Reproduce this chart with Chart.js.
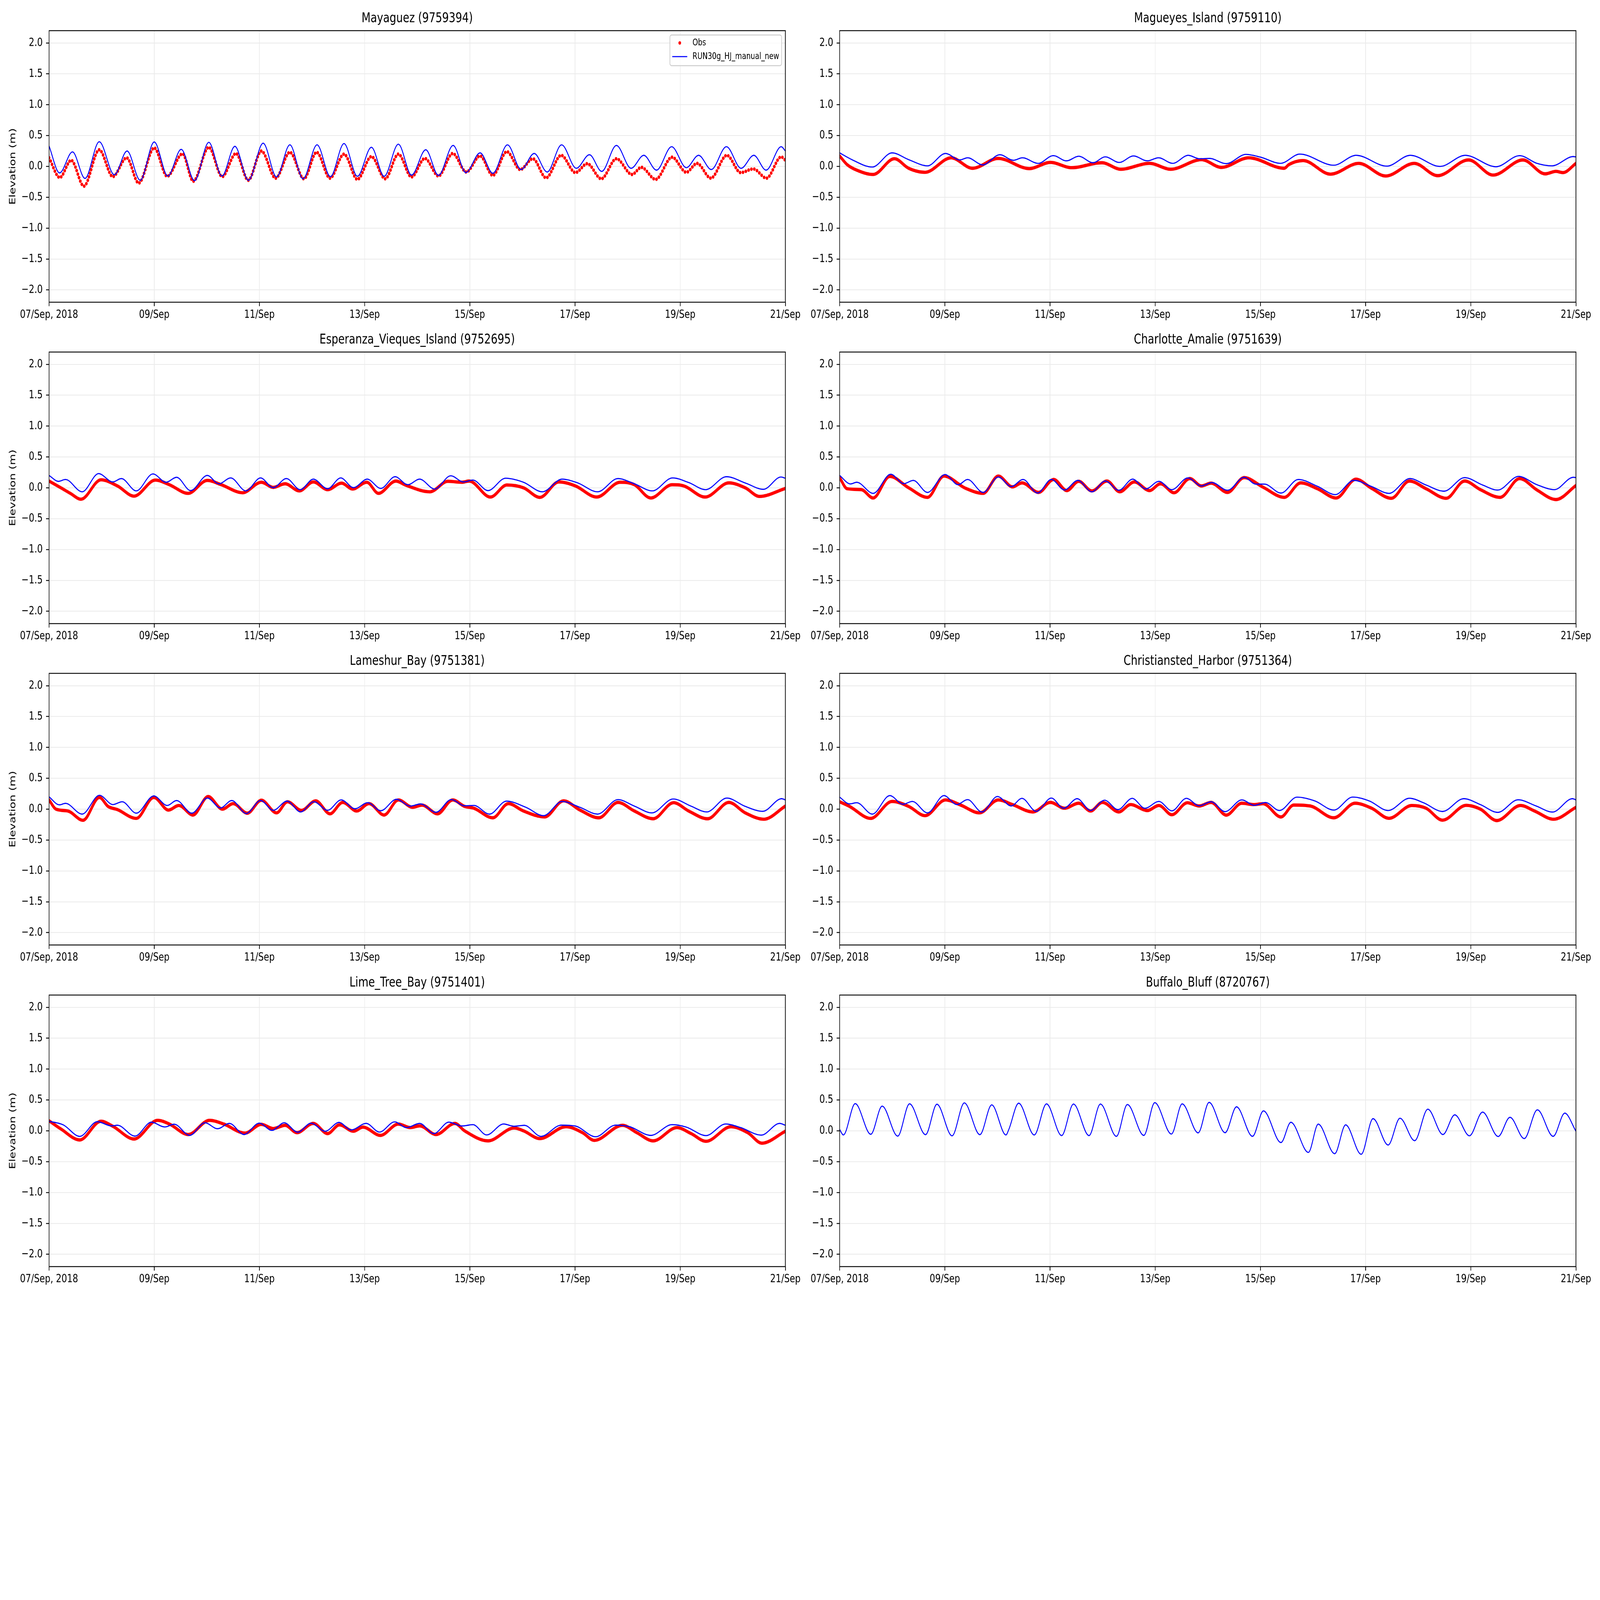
<!DOCTYPE html>
<html>
<head>
<meta charset="utf-8">
<script src="https://cdn.jsdelivr.net/npm/chart.js@4.4.1/dist/chart.umd.min.js"></script>
<style>
  html, body { margin: 0; padding: 0; background: #ffffff; overflow: hidden; }
  #fig { position: absolute; left: 0; top: 0; width: 7650px; height: 5850px; transform-origin: 0 0; background: #ffffff; }
  #fig canvas { position: absolute; }
</style>
</head>
<body>
<div id="fig"></div>
<script>
// hours since 07/Sep 2018 00:00, elevation in m  ([hour, value] pairs)
const hourTicks = [0, 48, 96, 144, 192, 240, 288, 336];
const xTickLabels = ["07/Sep, 2018", "09/Sep", "11/Sep", "13/Sep", "15/Sep", "17/Sep", "19/Sep", "21/Sep"];
const yTickValues = [-2, -1.5, -1, -0.5, 0, 0.5, 1, 1.5, 2];
const seriesLabels = ["Obs", "RUN30g_HJ_manual_new"];
const stationTitles = [
  "Mayaguez (9759394)", "Magueyes_Island (9759110)",
  "Esperanza_Vieques_Island (9752695)", "Charlotte_Amalie (9751639)",
  "Lameshur_Bay (9751381)", "Christiansted_Harbor (9751364)",
  "Lime_Tree_Bay (9751401)", "Buffalo_Bluff (8720767)"
];

const mayaguezObs = [[0,0.14],[4.9,-0.18],[10.1,0.10],[15.9,-0.32],[22.9,0.27],[29.1,-0.165],[35.4,0.14],[40.9,-0.27],[48.0,0.30],[53.9,-0.16],[60.9,0.205],[65.8,-0.24],[72.9,0.31],[79.0,-0.165],[85.3,0.21],[90.9,-0.224],[96.9,0.25],[103.4,-0.19],[109.9,0.23],[116.3,-0.20],[122.1,0.23],[128.2,-0.19],[134.6,0.20],[140.7,-0.21],[147.1,0.16],[153.4,-0.20],[159.4,0.20],[165.4,-0.17],[171.5,0.13],[177.7,-0.155],[184.2,0.21],[190.4,-0.09],[196.7,0.17],[202.5,-0.145],[208.9,0.24],[215.0,-0.05],[220.8,0.125],[226.8,-0.185],[233.7,0.18],[240.2,-0.10],[245.6,0.045],[252.0,-0.20],[258.9,0.125],[266.0,-0.13],[270.3,-0.015],[276.8,-0.21],[284.3,0.15],[290.8,-0.095],[295.7,0.05],[302.0,-0.19],[309.3,0.18],[315.6,-0.10],[321.4,-0.04],[327.4,-0.19],[334.1,0.155],[336,0.10]];
const mayaguezModel = [[0,0.33],[4.8,-0.105],[10.7,0.236],[16.4,-0.194],[22.9,0.40],[29.8,-0.135],[35.6,0.25],[41.6,-0.224],[48.0,0.396],[54.2,-0.155],[60.3,0.277],[66.4,-0.23],[72.9,0.39],[78.9,-0.155],[84.8,0.325],[91.0,-0.224],[97.7,0.376],[103.8,-0.17],[109.9,0.35],[115.9,-0.20],[122.3,0.35],[128.4,-0.165],[134.6,0.37],[140.7,-0.16],[147.1,0.31],[152.9,-0.16],[159.4,0.36],[165.4,-0.14],[171.9,0.27],[177.7,-0.145],[184.4,0.34],[190.2,-0.10],[196.7,0.22],[202.5,-0.11],[209.2,0.35],[215.4,-0.05],[221.4,0.21],[227.3,-0.09],[233.9,0.35],[240.6,-0.03],[246.6,0.19],[252.2,-0.08],[258.9,0.34],[265.6,-0.03],[271.4,0.18],[277.2,-0.06],[284.1,0.32],[290.8,-0.02],[296.4,0.18],[302.2,-0.05],[309.1,0.32],[315.8,-0.03],[321.6,0.18],[327.2,-0.06],[334.1,0.32],[336,0.25]];

const magueyesObs = [[0,0.17],[3.4,0.03],[7.8,-0.06],[15.3,-0.13],[25.0,0.125],[31.5,-0.03],[39.0,-0.095],[50.9,0.14],[60.6,-0.03],[72.4,0.13],[86.5,-0.035],[96.2,0.065],[105.9,-0.02],[119.7,0.06],[128.3,-0.045],[141.4,0.05],[151.1,-0.045],[165.1,0.11],[174.2,-0.015],[186.7,0.14],[202.9,-0.03],[205.0,0.03],[211.5,0.095],[224.0,-0.125],[236.9,0.05],[249.2,-0.155],[262.2,0.05],[272.9,-0.15],[287.0,0.105],[298.2,-0.14],[311.8,0.105],[321.9,-0.12],[326.9,-0.08],[330.1,-0.10],[336,0.05]];
const magueyesModel = [[0,0.22],[5.6,0.11],[14.9,-0.01],[23.9,0.22],[31.5,0.11],[40.1,0.01],[48.3,0.21],[54.8,0.105],[58.4,0.14],[65.3,0.025],[73.1,0.19],[79.3,0.10],[83.4,0.14],[90.6,0.05],[97.5,0.175],[103.5,0.09],[109.1,0.165],[115.6,0.06],[121.2,0.155],[127.6,0.065],[134.1,0.17],[140.4,0.09],[145.5,0.14],[152.0,0.05],[159.1,0.18],[164.1,0.125],[168.8,0.13],[176.4,0.045],[185.4,0.195],[192.1,0.15],[201.2,0.05],[210.0,0.20],[225.5,0.02],[235.7,0.18],[249.7,0.005],[260.4,0.18],[274.0,0.0],[285.5,0.18],[299.5,-0.005],[310.3,0.175],[318.2,0.05],[325.1,0.01],[334.8,0.16],[336,0.155]];

const esperanzaObs = [[0,0.11],[5.4,0.0],[9.7,-0.09],[14.6,-0.185],[23.7,0.13],[31.2,0.03],[38.8,-0.135],[48.5,0.125],[54.9,0.05],[63.5,-0.09],[72.2,0.12],[78.6,0.05],[88.3,-0.08],[96.9,0.09],[102.3,0.007],[107.7,0.065],[114.2,-0.05],[120.6,0.095],[127.1,-0.03],[133.5,0.075],[138.5,-0.02],[145.0,0.09],[150.3,-0.09],[158.3,0.11],[162.6,0.045],[173.8,-0.065],[182.0,0.105],[188.5,0.09],[191.7,0.11],[201.4,-0.15],[208.9,0.045],[216.5,0.0],[224.0,-0.155],[232.6,0.095],[240.2,0.03],[249.9,-0.15],[260.6,0.09],[267.1,0.05],[274.6,-0.165],[284.3,0.05],[289.7,0.03],[299.4,-0.15],[310.2,0.08],[317.7,0.0],[324.2,-0.14],[336,-0.01]];
const esperanzaModel = [[0,0.20],[4.3,0.105],[7.5,0.135],[15.1,-0.065],[22.6,0.23],[29.1,0.095],[33.0,0.15],[39.8,-0.05],[47.4,0.225],[53.4,0.09],[58.2,0.17],[64.6,-0.045],[72.2,0.20],[77.5,0.065],[82.9,0.16],[89.8,-0.05],[96.5,0.16],[102.3,0.003],[108.3,0.15],[114.6,-0.03],[120.6,0.14],[127.1,-0.015],[133.1,0.16],[138.9,0.003],[145.2,0.14],[151.4,-0.01],[157.9,0.18],[163.7,0.05],[169.1,0.14],[176.0,-0.02],[183.3,0.195],[189.1,0.095],[193.4,0.125],[200.3,-0.045],[208.3,0.155],[216.5,0.09],[225.1,-0.065],[234.1,0.14],[241.2,0.08],[250.3,-0.065],[259.6,0.15],[267.1,0.065],[275.3,-0.05],[284.5,0.16],[291.9,0.085],[299.6,-0.03],[309.1,0.18],[317.9,0.075],[326.0,-0.025],[334.0,0.175],[336,0.155]];

const charlotteObs = [[0,0.165],[3.4,-0.015],[9.9,-0.03],[15.3,-0.165],[22.9,0.185],[31.5,0.0],[40.1,-0.155],[47.6,0.19],[57.3,-0.005],[65.5,-0.09],[72.4,0.19],[78.9,0.015],[83.2,0.08],[90.8,-0.075],[97.7,0.135],[103.7,-0.045],[109.1,0.105],[115.1,-0.05],[122.0,0.11],[127.8,-0.065],[134.5,0.095],[141.4,-0.045],[146.4,0.065],[152.6,-0.08],[159.8,0.15],[165.1,0.03],[169.5,0.075],[177.0,-0.075],[184.6,0.165],[193.2,0.01],[202.9,-0.155],[210.4,0.08],[218.0,-0.015],[226.6,-0.165],[235.6,0.14],[242.8,-0.01],[251.8,-0.17],[260.0,0.11],[267.6,-0.015],[276.8,-0.17],[285.2,0.11],[292.4,-0.03],[301.4,-0.155],[310.3,0.15],[318.2,-0.035],[326.9,-0.19],[336,0.037]];
const charlotteModel = [[0,0.20],[5.0,0.062],[7.8,0.09],[15.3,-0.09],[23.3,0.22],[29.3,0.067],[33.6,0.12],[40.1,-0.075],[48.1,0.215],[54.1,0.05],[58.4,0.135],[65.5,-0.075],[72.4,0.175],[78.3,0.02],[83.7,0.135],[90.3,-0.085],[96.6,0.135],[102.6,-0.035],[108.7,0.12],[115.1,-0.065],[121.2,0.11],[127.4,-0.04],[133.7,0.14],[139.7,-0.018],[145.7,0.105],[151.6,-0.03],[158.9,0.16],[165.1,0.03],[169.9,0.085],[177.0,-0.04],[184.6,0.17],[189.9,0.06],[193.8,0.06],[201.4,-0.085],[209.3,0.135],[218.0,0.025],[226.2,-0.11],[234.6,0.12],[242.8,0.02],[250.7,-0.09],[260.2,0.15],[267.6,0.045],[275.8,-0.055],[285.2,0.165],[293.4,0.045],[300.3,-0.037],[309.8,0.185],[318.2,0.05],[326.2,-0.03],[334.8,0.17],[336,0.165]];

const lameshurObs = [[0,0.15],[3.2,0.0],[8.6,-0.03],[15.5,-0.18],[23.0,0.19],[26.9,0.045],[31.2,-0.007],[39.8,-0.15],[47.8,0.19],[54.5,-0.015],[59.2,0.06],[65.7,-0.095],[72.6,0.205],[79.1,0.0],[84.0,0.09],[90.5,-0.065],[96.9,0.145],[103.8,-0.06],[108.8,0.12],[115.2,-0.02],[121.7,0.135],[128.2,-0.075],[134.0,0.11],[140.4,-0.03],[146.0,0.09],[152.9,-0.095],[159.4,0.15],[165.9,0.03],[170.2,0.065],[177.3,-0.075],[184.2,0.15],[189.6,0.045],[193.9,0.015],[202.5,-0.14],[209.6,0.09],[216.5,-0.03],[226.2,-0.125],[234.8,0.135],[242.3,-0.015],[250.9,-0.14],[259.6,0.11],[267.1,-0.03],[275.7,-0.155],[285.0,0.105],[291.9,-0.03],[300.5,-0.155],[310.2,0.11],[317.7,-0.06],[326.2,-0.163],[336,0.05]];
const lameshurModel = [[0,0.20],[4.7,0.07],[7.5,0.095],[15.1,-0.08],[23.0,0.225],[29.1,0.075],[33.4,0.12],[39.8,-0.065],[47.8,0.215],[53.9,0.06],[58.2,0.14],[65.1,-0.065],[72.2,0.18],[78.2,0.02],[83.4,0.14],[90.0,-0.07],[96.5,0.14],[102.3,-0.018],[108.6,0.13],[114.8,-0.045],[120.8,0.12],[127.1,-0.018],[133.3,0.15],[139.6,0.007],[145.4,0.105],[151.4,-0.025],[158.5,0.16],[164.8,0.05],[169.5,0.085],[176.6,-0.05],[183.5,0.155],[189.6,0.055],[193.9,0.06],[201.0,-0.08],[208.7,0.13],[217.6,0.03],[225.7,-0.105],[234.1,0.125],[242.3,0.03],[250.3,-0.08],[259.6,0.155],[267.1,0.05],[275.1,-0.06],[284.8,0.165],[292.9,0.05],[300.1,-0.045],[309.3,0.18],[317.7,0.045],[325.7,-0.035],[334.3,0.17],[336,0.15]];

const christianstedObs = [[0,0.12],[4.5,0.045],[14.2,-0.15],[23.9,0.125],[31.5,0.045],[39.0,-0.105],[48.3,0.15],[55.2,0.067],[63.8,-0.06],[72.4,0.15],[78.9,0.074],[88.2,-0.045],[96.2,0.11],[102.6,0.015],[109.1,0.096],[114.5,-0.03],[119.9,0.11],[127.4,-0.045],[132.8,0.074],[140.4,-0.022],[145.7,0.06],[151.6,-0.09],[158.7,0.104],[164.1,0.052],[169.5,0.11],[176.4,-0.096],[183.5,0.096],[188.9,0.074],[193.2,0.089],[201.4,-0.126],[207.2,0.067],[214.7,0.052],[225.5,-0.14],[235.2,0.096],[242.8,0.015],[250.7,-0.148],[261.1,0.06],[267.6,0.015],[275.1,-0.178],[285.9,0.062],[292.4,0.0],[299.9,-0.185],[310.7,0.06],[317.1,-0.03],[325.8,-0.163],[336,0.03]];
const christianstedModel = [[0,0.195],[4.5,0.085],[7.8,0.105],[14.9,-0.08],[22.9,0.22],[28.9,0.08],[33.2,0.125],[40.1,-0.06],[47.6,0.22],[53.5,0.075],[58.4,0.155],[64.9,-0.045],[72.0,0.205],[78.3,0.052],[83.2,0.175],[89.7,-0.035],[96.6,0.18],[102.2,0.015],[108.4,0.17],[114.5,-0.02],[120.9,0.145],[127.0,-0.007],[133.5,0.175],[139.3,0.015],[145.7,0.125],[151.6,-0.027],[158.2,0.175],[164.1,0.055],[169.5,0.12],[175.9,-0.04],[183.5,0.15],[189.3,0.063],[194.3,0.108],[200.7,-0.022],[208.7,0.195],[216.9,0.133],[225.5,-0.015],[234.1,0.196],[241.7,0.133],[250.3,-0.022],[260.0,0.177],[266.5,0.103],[275.1,-0.037],[284.8,0.17],[292.4,0.074],[300.3,-0.052],[309.6,0.152],[317.8,0.052],[325.3,-0.047],[334.4,0.17],[336,0.15]];

const limeTreeObs = [[0,0.163],[5.4,0.03],[14.0,-0.148],[23.7,0.155],[29.1,0.074],[38.8,-0.133],[49.5,0.17],[54.9,0.11],[63.5,-0.06],[73.2,0.17],[79.7,0.11],[89.4,-0.037],[96.9,0.104],[102.3,0.037],[107.7,0.089],[113.1,-0.03],[120.6,0.12],[127.1,-0.045],[132.5,0.096],[138.9,-0.007],[143.2,0.06],[151.2,-0.074],[159.4,0.11],[164.8,0.052],[169.1,0.08],[176.6,-0.06],[185.2,0.12],[189.6,0.0],[200.3,-0.163],[212.2,0.045],[216.5,0.0],[224.0,-0.126],[235.9,0.067],[243.4,-0.03],[248.8,-0.155],[261.7,0.089],[268.2,-0.03],[275.7,-0.163],[286.5,0.052],[293.0,-0.045],[299.8,-0.17],[311.2,0.067],[318.8,-0.03],[325.3,-0.2],[336,-0.007]];
const limeTreeModel = [[0,0.155],[6.5,0.096],[14.0,-0.09],[22.0,0.148],[28.4,0.08],[31.2,0.09],[39.2,-0.086],[46.7,0.14],[52.8,0.062],[57.1,0.107],[64.2,-0.074],[71.1,0.13],[76.9,0.034],[82.3,0.12],[89.0,-0.06],[95.9,0.124],[101.7,0.007],[107.3,0.13],[113.5,-0.022],[119.5,0.123],[126.0,-0.007],[132.3,0.136],[137.9,0.015],[144.7,0.12],[150.8,-0.02],[157.7,0.145],[163.1,0.052],[169.1,0.12],[175.6,-0.045],[182.4,0.14],[188.5,0.078],[193.4,0.1],[199.7,-0.067],[207.4,0.11],[212.2,0.074],[216.9,0.089],[224.5,-0.09],[233.7,0.092],[240.2,0.077],[249.4,-0.096],[258.5,0.092],[264.9,0.067],[274.6,-0.074],[284.3,0.1],[290.8,0.06],[299.8,-0.077],[308.7,0.11],[315.6,0.052],[325.0,-0.07],[333.4,0.12],[336,0.09]];

const buffaloModel = [[0,0.022],[1.7,-0.067],[7.1,0.44],[14.2,-0.056],[19.4,0.40],[26.5,-0.086],[31.9,0.437],[39.2,-0.062],[44.4,0.43],[51.3,-0.081],[56.9,0.452],[64.0,-0.062],[69.4,0.42],[75.9,-0.067],[77.2,0.022],[81.7,0.447],[88.8,-0.067],[94.4,0.436],[101.3,-0.077],[106.7,0.433],[113.8,-0.077],[119.0,0.433],[126.3,-0.089],[131.3,0.426],[138.8,-0.074],[143.8,0.456],[151.4,-0.052],[156.3,0.436],[163.6,-0.033],[168.6,0.46],[175.9,-0.03],[181.1,0.388],[188.4,-0.089],[193.4,0.323],[201.4,-0.19],[205.9,0.138],[213.9,-0.35],[218.4,0.108],[225.9,-0.37],[230.9,0.096],[238.0,-0.38],[243.4,0.197],[250.3,-0.23],[255.7,0.204],[262.4,-0.16],[268.4,0.35],[275.3,-0.06],[280.7,0.259],[287.4,-0.081],[293.4,0.303],[300.5,-0.092],[305.9,0.219],[312.4,-0.126],[318.4,0.34],[325.6,-0.089],[330.9,0.286],[336,-0.007]];

const obsSeries = [mayaguezObs, magueyesObs, esperanzaObs, charlotteObs, lameshurObs, christianstedObs, limeTreeObs, null];
const modelSeries = [mayaguezModel, magueyesModel, esperanzaModel, charlotteModel, lameshurModel, christianstedModel, limeTreeModel, buffaloModel];

// figure layout (px, in a 7650 x 5850 figure)
const FIG_W = 7650, FIG_H = 5850;
const ROW_TOP = [112, 1287, 2462, 3638];
const COL_LEFT = [0, 3780];
const TITLE_H = 120, AXIS_W = 234.5, AXES_H = 993, XAXIS_H = 100;
const CANVAS_W = 3870, PAD_R = 115;
const FONT = "DejaVu Sans";
const OBS_COLOR = "#ff0000", MODEL_COLOR = "#0000ff";

// map the 7650 x 5850 figure onto the window if the window is a different size
const fig = document.getElementById("fig");
const sx = window.innerWidth / FIG_W, sy = window.innerHeight / FIG_H;
if (Math.abs(sx - 1) > 0.001 || Math.abs(sy - 1) > 0.001) {
  fig.style.transform = "scale(" + sx + "," + sy + ")";
}

Chart.defaults.font.family = FONT;
Chart.defaults.color = "#000000";

function toXY(pairs) {
  return pairs.map(function (p) { return { x: p[0], y: p[1] }; });
}

// black box round the axes, plus the legend on the first panel
const framePlugin = {
  id: "frame",
  afterDraw: function (chart, args, opts) {
    const ctx = chart.ctx;
    const a = chart.chartArea;
    ctx.save();
    ctx.strokeStyle = "#000000";
    ctx.lineWidth = 3.3;
    ctx.strokeRect(a.left, a.top, a.right - a.left, a.bottom - a.top);
    if (opts.legend) {
      const x0 = a.right - 552, y0 = a.top + 16;
      ctx.beginPath();
      ctx.roundRect(x0, y0, 534, 112, 8);
      ctx.fillStyle = "rgba(255,255,255,0.8)";
      ctx.fill();
      ctx.lineWidth = 3.3;
      ctx.strokeStyle = "#cccccc";
      ctx.stroke();
      ctx.fillStyle = OBS_COLOR;
      ctx.beginPath();
      ctx.arc(x0 + 47, y0 + 29, 6.5, 0, 2 * Math.PI);
      ctx.fill();
      ctx.strokeStyle = MODEL_COLOR;
      ctx.lineWidth = 4.17;
      ctx.beginPath();
      ctx.moveTo(x0 + 11, y0 + 79);
      ctx.lineTo(x0 + 83, y0 + 79);
      ctx.stroke();
      ctx.fillStyle = "#000000";
      ctx.font = "33.3px '" + FONT + "'";
      ctx.textBaseline = "middle";
      ctx.textAlign = "left";
      ctx.fillText(seriesLabels[0], x0 + 108, y0 + 29);
      ctx.fillText(seriesLabels[1], x0 + 108, y0 + 79);
    }
    ctx.restore();
  }
};

stationTitles.forEach(function (title, i) {
  const row = Math.floor(i / 2), col = i % 2;
  const canvas = document.createElement("canvas");
  canvas.width = CANVAS_W;
  canvas.height = TITLE_H + AXES_H + XAXIS_H;
  canvas.style.left = COL_LEFT[col] + "px";
  canvas.style.top = (ROW_TOP[row] - TITLE_H) + "px";
  fig.appendChild(canvas);

  const datasets = [{
    label: seriesLabels[1],
    data: toXY(modelSeries[i]),
    borderColor: MODEL_COLOR,
    borderWidth: 4.17,
    pointRadius: 0,
    cubicInterpolationMode: "monotone",
    clip: 0,
    order: 0
  }];
  if (obsSeries[i]) {
    const obs = {
      label: seriesLabels[0],
      data: toXY(obsSeries[i]),
      borderColor: OBS_COLOR,
      borderWidth: 12,
      borderCapStyle: "round",
      borderJoinStyle: "round",
      pointRadius: 0,
      cubicInterpolationMode: "monotone",
      clip: 0,
      order: 1
    };
    if (i === 0) {
      // hourly samples at Mayaguez show as separate dots
      obs.borderWidth = 13;
      obs.borderDash = [0, 14];
    }
    datasets.push(obs);
  }

  new Chart(canvas.getContext("2d"), {
    type: "line",
    data: { datasets: datasets },
    plugins: [framePlugin],
    options: {
      responsive: false,
      devicePixelRatio: 1,
      animation: false,
      events: [],
      layout: { padding: { left: 0, right: PAD_R, top: 0, bottom: 0 } },
      plugins: {
        legend: { display: false },
        tooltip: { enabled: false },
        frame: { legend: i === 0 },
        title: {
          display: true,
          text: title,
          fullSize: false,
          color: "#000000",
          font: { family: FONT, size: 50, weight: "normal", lineHeight: 1.2 },
          padding: { top: 46, bottom: 14 }
        }
      },
      scales: {
        x: {
          type: "linear",
          min: 0,
          max: 336,
          afterBuildTicks: function (axis) {
            axis.ticks = hourTicks.map(function (v) { return { value: v }; });
          },
          afterFit: function (axis) { axis.height = XAXIS_H; },
          ticks: {
            autoSkip: false,
            maxRotation: 0,
            padding: 7,
            color: "#000000",
            font: { size: 41.67 },
            callback: function (v, idx) { return xTickLabels[idx]; }
          },
          grid: {
            color: "#ebebeb",
            lineWidth: 3,
            tickColor: "#000000",
            tickWidth: 3.3,
            tickLength: 14.6
          },
          border: { display: false }
        },
        y: {
          type: "linear",
          min: -2.2,
          max: 2.2,
          afterBuildTicks: function (axis) {
            axis.ticks = yTickValues.map(function (v) { return { value: v }; });
          },
          afterFit: function (axis) { axis.width = AXIS_W; },
          ticks: {
            padding: 16,
            color: "#000000",
            font: { size: 41.67 },
            callback: function (v) { return v.toFixed(1).replace("-", "\u2212"); }
          },
          grid: {
            color: "#ebebeb",
            lineWidth: 3,
            tickColor: "#000000",
            tickWidth: 3.3,
            tickLength: 14.6
          },
          border: { display: false },
          title: {
            display: col === 0,
            text: "Elevation (m)",
            color: "#000000",
            font: { size: 41.67 },
            padding: { top: 37, bottom: 0 }
          }
        }
      }
    }
  });
});
</script>
</body>
</html>
